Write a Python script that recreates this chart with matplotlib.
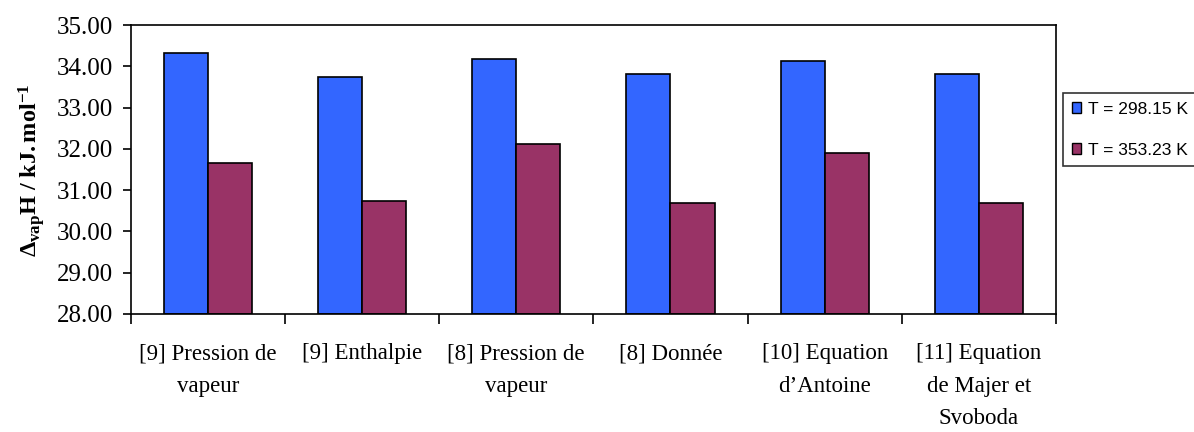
import matplotlib
matplotlib.use("Agg")
import matplotlib.pyplot as plt
import numpy as np
from matplotlib.patches import Patch
from matplotlib.ticker import FormatStrFormatter, FixedLocator

categories = ["[9] Pression de\nvapeur", "[9] Enthalpie", "[8] Pression de\nvapeur",
              "[8] Donnée", "[10] Equation\nd\u2019Antoine", "[11] Equation\nde Majer et\nSvoboda"]
series_names = ["T = 298.15 K", "T = 353.23 K"]
t298 = [34.33, 33.74, 34.17, 33.82, 34.13, 33.82]
t353 = [31.66, 30.74, 32.12, 30.70, 31.89, 30.70]
yticks = [28, 29, 30, 31, 32, 33, 34, 35]
colors = ["#3366FF", "#993366"]

plt.rcParams['mathtext.fontset'] = 'custom'
plt.rcParams['mathtext.rm'] = 'Liberation Serif'
plt.rcParams['mathtext.it'] = 'Liberation Serif:italic'
plt.rcParams['mathtext.bf'] = 'Liberation Serif:bold'

W, H = 1194, 432
fig = plt.figure(figsize=(W / 100, H / 100), dpi=100)
ax = fig.add_axes([130.7 / W, 1 - 314 / H, (1056 - 130.7) / W, (314 - 25) / H])

x = np.arange(len(categories))
bw = 1 / 3.5
for i, (vals, c) in enumerate(zip([t298, t353], colors)):
    ax.bar(x + (i - 0.5) * bw, np.array(vals) - 28, bottom=28, width=bw, color=c,
           edgecolor="black", linewidth=1.2, zorder=2)

ax.set_xlim(-0.5, len(categories) - 0.5)
ax.set_ylim(28, 35)
ax.yaxis.set_major_locator(FixedLocator(yticks))
ax.yaxis.set_major_formatter(FormatStrFormatter('%.2f'))
ax.set_xticks(x)
ax.set_xticklabels(categories, family="Liberation Serif", fontsize=16.5, linespacing=1.72,
                   multialignment="center", va="top")
ax.set_xticks(np.arange(len(categories) + 1) - 0.5, minor=True)
ax.tick_params(axis="x", which="major", length=0, pad=21)
ax.tick_params(axis="x", which="minor", length=7, width=1.2, direction="out")
ax.tick_params(axis="y", length=6, width=1.2, direction="out", pad=7)
for lab in ax.get_yticklabels():
    lab.set_family("Liberation Serif")
    lab.set_fontsize(18)
for sp in ax.spines.values():
    sp.set_linewidth(1.2)

ax.set_ylabel(r'$\mathbf{\Delta_{vap}H\ /\ kJ.mol^{-1}}$', fontsize=17.5)
ax.yaxis.set_label_coords(47 / W, 1 - 170 / H, transform=fig.transFigure)

handles = [Patch(facecolor=c, edgecolor="black", linewidth=1) for c in colors]
leg = fig.legend(handles, series_names, loc="upper left",
                 bbox_to_anchor=(1063 / W, 1 - 93 / H), bbox_transform=fig.transFigure,
                 prop={"family": "Liberation Sans", "size": 12.5},
                 frameon=True, fancybox=False, shadow=False, borderaxespad=0,
                 handlelength=0.55, handleheight=0.55, handletextpad=0.4,
                 labelspacing=1.5, borderpad=0.5)
leg.get_frame().set_edgecolor("black")
leg.get_frame().set_linewidth(1.2)

fig.savefig("out.png", dpi=100, facecolor="white")
